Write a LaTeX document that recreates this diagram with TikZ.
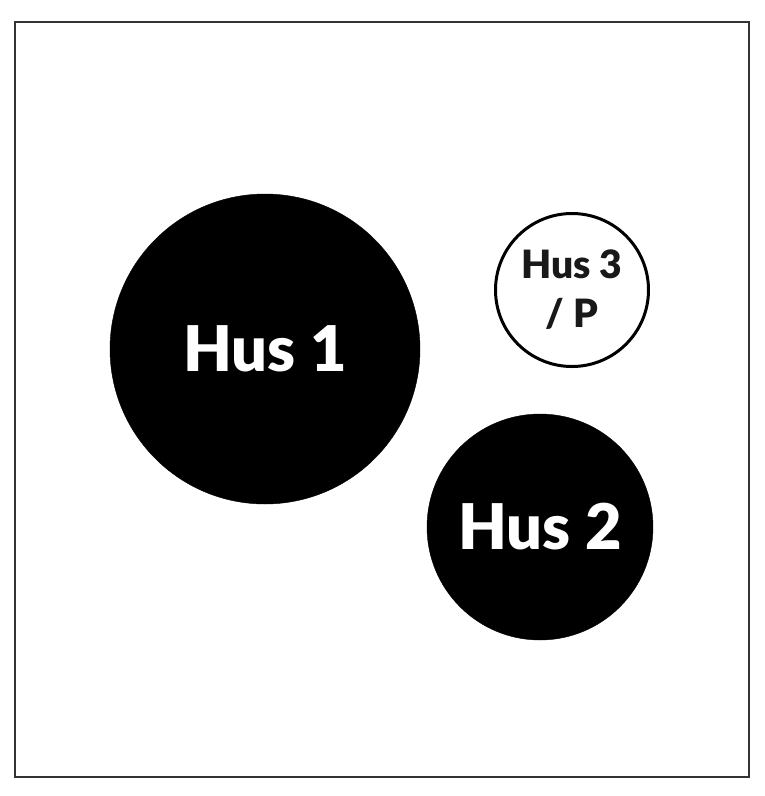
\documentclass[tikz,border=0pt]{standalone}
\usepackage{fontspec}
\setmainfont{Lato}[BoldFont={Lato Black}]
\begin{document}
\begin{tikzpicture}[x=1pt,y=-1pt,
  frame/.style={draw=black!80,line width=2pt},
  bigdisc/.style={circle,fill=black,draw=black,inner sep=0pt,text=white,font=\bfseries\fontsize{63}{65}\selectfont},
  ringdisc/.style={circle,fill=white,draw=black,line width=3pt,inner sep=0pt,text=black!90,align=center,font=\bfseries\fontsize{39}{49}\selectfont}]
\useasboundingbox (0,0) rectangle (765,796);
\node[frame,minimum width=734pt,minimum height=755pt,inner sep=0pt] (frame) at (382,399) {};
\node[bigdisc,minimum size=310pt] (h1) at (265,349) {Hus 1};
\node[bigdisc,minimum size=226pt] (h2) at (540,527) {Hus 2};
\node[ringdisc,minimum size=153pt] (h3) at (572,290) {Hus 3\\/ P};
\end{tikzpicture}
\end{document}
